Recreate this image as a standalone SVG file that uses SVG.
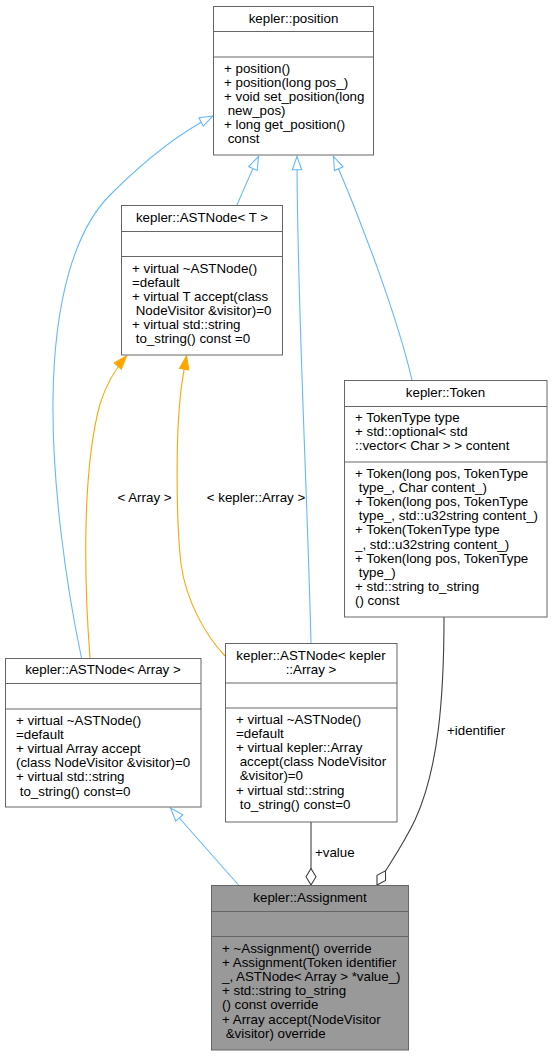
<svg xmlns="http://www.w3.org/2000/svg" width="553" height="1056" viewBox="0 0 553 1056">
<style>
text{font-family:"Liberation Sans",Arial,Helvetica,sans-serif;font-size:13.33px;fill:#000}
.t{text-anchor:middle}
.box{fill:#fff;stroke:#666;stroke-width:1}
.cur{fill:#999}
.div{stroke:#666;stroke-width:1}
.inh{fill:none;stroke:#63B8FF;stroke-width:1.1}
.tpl{fill:none;stroke:#FFA500;stroke-width:1.1}
.use{fill:none;stroke:#404040;stroke-width:1.1}
</style>
<defs>
<marker id="mInh" markerUnits="userSpaceOnUse" viewBox="-1 -1 16 12" markerWidth="16" markerHeight="12" refX="13.3" refY="4.7" orient="auto">
<path d="M0,0 L13.3,4.7 L0,9.4 Z" fill="#fff" stroke="#63B8FF" stroke-width="1.1"/>
</marker>
<marker id="mTpl" markerUnits="userSpaceOnUse" viewBox="-1 -1 16 12" markerWidth="16" markerHeight="12" refX="13.3" refY="4.7" orient="auto">
<path d="M0,0 L13.3,4.7 L0,9.4 Z" fill="#FFA500" stroke="#FFA500" stroke-width="1.1"/>
</marker>
<marker id="mDia" markerUnits="userSpaceOnUse" viewBox="-1 -1 19 13" markerWidth="19" markerHeight="13" refX="16.5" refY="5" orient="auto">
<path d="M0,5 L8.2,0 L16.5,5 L8.2,10 Z" fill="#fff" stroke="#404040" stroke-width="1.1"/>
</marker>
</defs>

<g id="connectors">
<path class="inh" d="M237,205 C242,193 250,175 258.5,156.5" marker-end="url(#mInh)"/>
<path class="inh" d="M311,643 C307,480 297,300 297,156.5" marker-end="url(#mInh)"/>
<path class="inh" d="M412,380 C398,320 365,230 333.5,156.5" marker-end="url(#mInh)"/>
<path class="inh" d="M81.5,658 C65,580 52,480 53,400 C54,300 75,230 110,195 C140,165 175,135 213,116" marker-end="url(#mInh)"/>
<path class="inh" d="M238.5,885 L170.5,808" marker-end="url(#mInh)"/>
<path class="tpl" d="M90,658 C84,580 82,470 100,404 C106,385 116,368 126.5,356" marker-end="url(#mTpl)"/>
<path class="tpl" d="M225,656 C205,635 186,600 181,564 C176,520 176,440 180,400 C181,385 184,370 186.5,356" marker-end="url(#mTpl)"/>
<path class="use" d="M311,822 L311,885" marker-end="url(#mDia)"/>
<path class="use" d="M444,617 C444,700 438,770 415,820 C403,845 392,860 377,885" marker-end="url(#mDia)"/>
<text class="t" x="144.5" y="502">&lt; Array &gt;</text>
<text class="t" x="256" y="502">&lt; kepler::Array &gt;</text>
<text x="315" y="857">+value</text>
<text x="447" y="735">+identifier</text>
</g>

<g id="position">
<rect class="box" x="213.5" y="6.5" width="160" height="148.5"/>
<line class="div" x1="213.5" y1="31.5" x2="373.5" y2="31.5"/>
<line class="div" x1="213.5" y1="57" x2="373.5" y2="57"/>
<text class="t" x="293.5" y="22.5">kepler::position</text>
<text x="224" y="73">+ position()</text>
<text x="224" y="87">+ position(long pos_)</text>
<text x="224" y="101">+ void set_position(long</text>
<text x="224" y="115" xml:space="preserve"> new_pos)</text>
<text x="224" y="129">+ long get_position()</text>
<text x="224" y="143" xml:space="preserve"> const</text>
</g>

<g id="astnode_t">
<rect class="box" x="121.5" y="205.5" width="161" height="149.5"/>
<line class="div" x1="121.5" y1="231.5" x2="282.5" y2="231.5"/>
<line class="div" x1="121.5" y1="256.5" x2="282.5" y2="256.5"/>
<text class="t" x="202" y="221.5">kepler::ASTNode&lt; T &gt;</text>
<text x="132" y="273">+ virtual ~ASTNode()</text>
<text x="132" y="287">=default</text>
<text x="132" y="301">+ virtual T accept(class</text>
<text x="132" y="315" xml:space="preserve"> NodeVisitor &amp;visitor)=0</text>
<text x="132" y="329">+ virtual std::string</text>
<text x="132" y="343" xml:space="preserve"> to_string() const =0</text>
</g>

<g id="token">
<rect class="box" x="344.5" y="380.5" width="202.5" height="236.5"/>
<line class="div" x1="344.5" y1="406.5" x2="547" y2="406.5"/>
<line class="div" x1="344.5" y1="462" x2="547" y2="462"/>
<text class="t" x="445.5" y="396.5">kepler::Token</text>
<text x="355" y="421.5">+ TokenType type</text>
<text x="355" y="435.5">+ std::optional&lt; std</text>
<text x="355" y="449.5">::vector&lt; Char &gt; &gt; content</text>
<text x="355" y="478">+ Token(long pos, TokenType</text>
<text x="355" y="492.1" xml:space="preserve"> type_, Char content_)</text>
<text x="355" y="506.2">+ Token(long pos, TokenType</text>
<text x="355" y="520.3" xml:space="preserve"> type_, std::u32string content_)</text>
<text x="355" y="534.4">+ Token(TokenType type</text>
<text x="355" y="548.5">_, std::u32string content_)</text>
<text x="355" y="562.6">+ Token(long pos, TokenType</text>
<text x="355" y="576.7" xml:space="preserve"> type_)</text>
<text x="355" y="590.8">+ std::string to_string</text>
<text x="355" y="604.9">() const</text>
</g>

<g id="astnode_array">
<rect class="box" x="5.5" y="658.5" width="195.5" height="148.5"/>
<line class="div" x1="5.5" y1="683.5" x2="201" y2="683.5"/>
<line class="div" x1="5.5" y1="709" x2="201" y2="709"/>
<text class="t" x="103" y="674">kepler::ASTNode&lt; Array &gt;</text>
<text x="16" y="725">+ virtual ~ASTNode()</text>
<text x="16" y="739.1">=default</text>
<text x="16" y="753.2">+ virtual Array accept</text>
<text x="16" y="767.3">(class NodeVisitor &amp;visitor)=0</text>
<text x="16" y="781.4">+ virtual std::string</text>
<text x="16" y="795.5" xml:space="preserve"> to_string() const=0</text>
</g>

<g id="astnode_kepler_array">
<rect class="box" x="225.5" y="643.5" width="171.5" height="178.5"/>
<line class="div" x1="225.5" y1="683" x2="397" y2="683"/>
<line class="div" x1="225.5" y1="708" x2="397" y2="708"/>
<text class="t" x="311" y="660">kepler::ASTNode&lt; kepler</text>
<text class="t" x="311" y="674">::Array &gt;</text>
<text x="236" y="724">+ virtual ~ASTNode()</text>
<text x="236" y="738.1">=default</text>
<text x="236" y="752.2">+ virtual kepler::Array</text>
<text x="236" y="766.3" xml:space="preserve"> accept(class NodeVisitor</text>
<text x="236" y="780.4" xml:space="preserve"> &amp;visitor)=0</text>
<text x="236" y="794.5">+ virtual std::string</text>
<text x="236" y="808.6" xml:space="preserve"> to_string() const=0</text>
</g>

<g id="assignment">
<rect class="box cur" x="211.5" y="885.5" width="197" height="164.5"/>
<line class="div" x1="211.5" y1="911.5" x2="408.5" y2="911.5"/>
<line class="div" x1="211.5" y1="936.5" x2="408.5" y2="936.5"/>
<text class="t" x="310" y="901.5">kepler::Assignment</text>
<text x="222" y="953">+ ~Assignment() override</text>
<text x="222" y="967.1">+ Assignment(Token identifier</text>
<text x="222" y="981.2">_, ASTNode&lt; Array &gt; *value_)</text>
<text x="222" y="995.3">+ std::string to_string</text>
<text x="222" y="1009.4">() const override</text>
<text x="222" y="1023.5">+ Array accept(NodeVisitor</text>
<text x="222" y="1037.6" xml:space="preserve"> &amp;visitor) override</text>
</g>
</svg>
